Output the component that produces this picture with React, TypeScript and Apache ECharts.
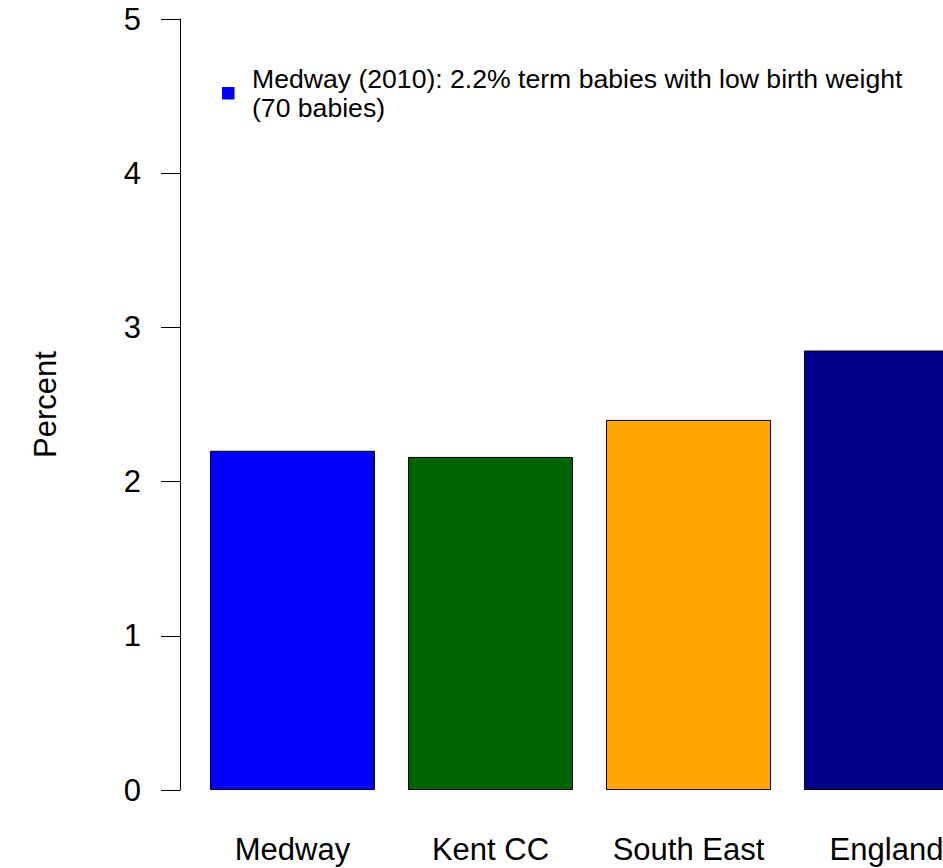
import React, { useEffect, useRef } from "react";
import * as echarts from "echarts";

const categories = ["Medway", "Kent CC", "South East", "England"];
const values = [2.2, 2.16, 2.4, 2.85];
const barColors = ["#0000FF", "#006400", "#FFA500", "#00008B"];
const yTicks = [0, 1, 2, 3, 4, 5];
const legendYear = "2010";
const legendBabies = 70;
const FONT = "'Liberation Sans', Arial, Helvetica, sans-serif";

export default function App() {
  const ref = useRef<HTMLDivElement>(null);
  useEffect(() => {
    if (!ref.current) return;
    const chart = echarts.init(ref.current, undefined, { renderer: "svg" });
    const legendText = `${categories[0]} (${legendYear}): ${values[0]}% term babies with low birth weight\n(${legendBabies} babies)`;
    chart.setOption({
      animation: false,
      backgroundColor: "#ffffff",
      grid: { left: 193.5, right: 14.5, top: 19, bottom: 78, containLabel: false },
      xAxis: {
        type: "category",
        data: categories,
        axisLine: { show: false },
        axisTick: { show: false },
        axisLabel: {
          color: "#000",
          fontSize: 31,
          fontFamily: FONT,
          margin: 44,
          interval: 0,
        },
      },
      yAxis: {
        type: "value",
        min: yTicks[0],
        max: yTicks[yTicks.length - 1],
        interval: 1,
        offset: 13.5,
        name: "Percent",
        nameLocation: "middle",
        nameRotate: 90,
        nameGap: 119,
        nameTextStyle: { color: "#000", fontSize: 31, fontFamily: FONT },
        axisLine: { show: true, lineStyle: { color: "#000", width: 1 } },
        axisTick: { show: true, length: 19, lineStyle: { color: "#000", width: 1 } },
        axisLabel: { color: "#000", fontSize: 31, fontFamily: FONT, margin: 39 },
        splitLine: { show: false },
      },
      series: [
        {
          type: "bar",
          data: values.map((v, i) => ({
            value: v,
            itemStyle: { color: barColors[i], borderColor: "#000", borderWidth: 1 },
          })),
          barCategoryGap: "16.67%",
        },
      ],
      graphic: [
        {
          type: "rect",
          left: 222,
          top: 87,
          shape: { width: 12.5, height: 12.5 },
          style: { fill: "#0000FF" },
        },
        {
          type: "text",
          left: 252,
          top: 65,
          style: {
            text: legendText,
            fill: "#000",
            font: `26.6px ${FONT}`,
            lineHeight: 28.5,
          },
        },
      ],
    });
    return () => chart.dispose();
  }, []);
  return (
    <div style={{ position: "fixed", left: 0, top: 0, width: 943, height: 868, overflow: "hidden", background: "#fff" }}>
      <div ref={ref} style={{ width: 1000, height: 868 }} />
    </div>
  );
}
